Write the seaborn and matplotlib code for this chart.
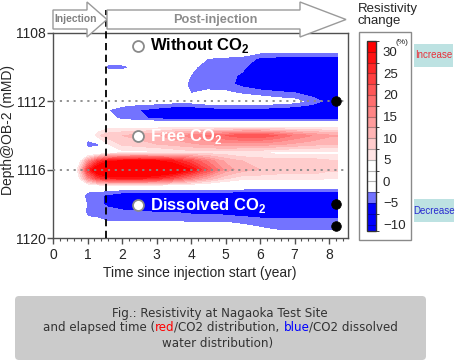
import numpy as np
import seaborn as sns
import matplotlib.pyplot as plt
from matplotlib.colors import ListedColormap, BoundaryNorm
from matplotlib.cm import ScalarMappable
from matplotlib.patches import Polygon, Rectangle, FancyBboxPatch
from matplotlib.ticker import MultipleLocator

years = [0, 0.6, 0.8, 1.0, 1.3, 1.6, 2.0, 2.5, 3.0, 3.5, 4.0, 4.5, 5.0, 5.5, 6.0, 6.5, 7.0, 7.5, 8.0, 8.25]
depths = [1108.0, 1108.5, 1109.0, 1109.5, 1110.0, 1110.5, 1111.0, 1111.5, 1112.0, 1112.5,
          1113.0, 1113.5, 1114.0, 1114.5, 1115.0, 1115.5, 1116.0, 1116.5, 1117.0, 1117.5,
          1118.0, 1118.5, 1119.0, 1119.5, 1120.0]
change = [
    [0, 0, 0, 0, 0, 0, 0, 0, 0, 0, 0, 0, 0, 0, 0, -3, -3, 0, 0, 0],
    [0, 0, 0, 0, 0, 0, 0, 0, 0, 0, 0, 0, 0, 0, 0, 0, 0, 0, 0, 0],
    [0, 0, 0, 0, 0, 0, 0, 0, 0, 0, 0, 0, 0, 0, -1, -1, -1, -1, -1, -1],
    [0, 0, 0, 0, 0, 0, 0, 0, 0, 0, -1, -2.6, -3, -3.5, -5.5, -6, -6, -6, -6, -6],
    [0, 0, 0, 0, -1, -3.5, -3.5, -1.5, -2.7, -2.7, -2, -3.5, -4, -4.5, -7, -8, -8, -8, -8, -8],
    [0, 0, 0, 0, 0, 0, 0, 0, 0, 0, -2.6, -3.5, -4, -5.5, -8, -8, -8, -8, -8, -8],
    [0, 0, 0, 0, 0, 0, -2.6, 0, 0, -1, -3, -3.5, -4, -6, -7, -8, -8, -8, -8, -8],
    [0, 0, 0, 0, 0, 0, 0, 0, 0, 0, -2.6, -2, -2, -3, -4, -4.5, -5, -6.5, -8, -8],
    [0, 0, 0, 0, 0, 0, -0.5, -1, -1, -1.5, -1.5, -0.5, 0, 0, 0, -1, -1.5, -3.5, -6, -6.5],
    [0, 0, 0, 0, 0, -2.5, -4, -5, -6, -7, -7, -6.5, -6, -6, -6, -6.5, -7, -7.5, -8, -8],
    [0, 0, 0, 0, 0, -1, -3.5, -4.5, -5.5, -6, -6, -6, -6, -6, -6, -6, -6, -6, -6, -6],
    [0, 0, 0, 0, 2, 4, 4, 4, 4, 4, 4, 4, 4, 4, 4, 4, 4, 4, 4, 4],
    [0, 0, 0, -1, 7, 9, 10, 11, 12, 14, 16, 18, 20, 22, 22, 20, 17, 15, 13, 13],
    [0, 0, 0, -3.5, -3.5, 5, 8, 9, 10, 11, 12, 13, 14, 14, 14, 13, 12, 11, 10, 10],
    [0, 0, 0, -1, 0, 3, 4, 4, 4, 5, 6, 6, 6, 5, 5, 4, 4, 4, 4, 4],
    [0, 0, 5, 14, 24, 29, 31, 32, 31, 28, 23, 17, 12, 10, 9, 9, 9, 9, 8, 8],
    [0, 0, 10, 25, 36, 40, 40, 40, 39, 36, 30, 22, 14, 11, 10, 9, 9, 9, 8, 8],
    [0, 0, 6, 15, 24, 27, 28, 28, 26, 22, 17, 12, 8, 6, 6, 6, 6, 6, 5.5, 5.5],
    [0, 0, -3, 0, 0, 0, 0, 0, 0, 0, 0, 0, 0, -0.5, -1, -1.5, -1.5, -1.5, -1.5, -1.5],
    [0, 0, -1, -4, -4.5, -5.5, -7, -8, -8, -8, -8, -8, -8, -8, -8, -8, -8, -8, -8, -8],
    [0, 0, 0, -3, -4, -6, -7.5, -8, -8, -8, -8, -8, -8, -8, -8, -8, -8, -8, -8, -8],
    [0, 0, 0, -3.5, -3.5, -3.5, -4, -4.5, -5, -5, -5.5, -5.5, -6, -6.5, -7, -7.5, -7.5, -7.5, -7.5, -7.5],
    [0, 0, 0, -1.5, -2, -2.6, -2.6, -2.7, -2.7, -2.7, -3, -3, -3, -3.5, -4, -4, -4, -4, -4, -4],
    [0, 0, 0, 0, 0, 0, 0, 0, 0, 0, 0, 0, 0, -1, -2, -2.7, -3, -3, -3, -3],
    [0, 0, 0, 0, 0, 0, 0, 0, 0, 0, 0, 0, 0, 0, 0, 0, 0, 0, 0, 0],
]

# colour classes of the legend bar
levels = [-11.5, -10, -7.5, -5, -2.5, 0, 2.5, 5, 7.5, 10, 12.5, 15, 17.5, 20, 22.5, 25, 27.5, 30, 32.5]
level_colors = ['#0000ff', '#0000ff', '#0000ff', '#7373ff',
                '#ffffff', '#ffffff', '#ffffff',
                '#ffe4e4', '#ffcccc', '#ffb4b4', '#ff9c9c', '#ff8585', '#ff6e6e',
                '#ff5757', '#ff4040', '#ff2828', '#ff1212', '#ff0000']
cbar_ticks = [-10, -5, 0, 5, 10, 15, 20, 25, 30]

# annotations
injection_end = 1.55
ref_depths = [1112, 1116]
label_year = 2.47
label_depths = [1108.76, 1114.03, 1118.07]
label_texts = [r'Without CO$_\mathbf{2}$', r'Free CO$_\mathbf{2}$', r'Dissolved CO$_\mathbf{2}$']
label_colors = ['black', 'white', 'white']
sensor_year = 8.2
sensor_depths = [1111.98, 1118.01, 1119.3]

sns.set_style('ticks')
plt.rcParams['font.family'] = ['Liberation Sans', 'DejaVu Sans']
plt.rcParams['mathtext.fontset'] = 'custom'
plt.rcParams['mathtext.rm'] = 'Liberation Sans'
plt.rcParams['mathtext.bf'] = 'Liberation Sans:bold'

W, H = 455, 361
fig = plt.figure(figsize=(W / 100, H / 100), dpi=100)


def px_box(l, t, r, b):
    return [l / W, 1 - b / H, (r - l) / W, (b - t) / H]


ax = fig.add_axes(px_box(53, 33, 348, 238))
fill_levels = [-20] + levels[1:-1] + [50]
ax.contourf(years, depths, np.array(change), levels=fill_levels, colors=level_colors, zorder=1)

for d in ref_depths:
    ax.axhline(d, xmax=8.42 / 8.55, color='#8a8a8a', ls=(0, (1.2, 2.6)), lw=1.3, zorder=3)
ax.axvline(injection_end, ymin=0, ymax=(238 - 10) / 205, color='black', ls=(0, (4, 2.5)),
           lw=1.3, clip_on=False, zorder=4)

sns.scatterplot(x=[sensor_year] * len(sensor_depths), y=sensor_depths, color='black',
                edgecolor='black', s=48, ax=ax, zorder=6, clip_on=False)
sns.scatterplot(x=[label_year] * len(label_depths), y=label_depths, color='white',
                edgecolor='#8a8a8a', linewidth=1.3, s=62, ax=ax, zorder=6)
for d, t, c in zip(label_depths, label_texts, label_colors):
    ax.text(2.81, d, t, color=c, fontsize=12, fontweight='bold', va='center', ha='left', zorder=7)

ax.set_xlim(0, 8.55)
ax.set_ylim(1120, 1108)
ax.xaxis.set_major_locator(MultipleLocator(1))
ax.xaxis.set_minor_locator(MultipleLocator(0.2))
ax.yaxis.set_major_locator(MultipleLocator(4))
ax.yaxis.set_minor_locator(MultipleLocator(2))
ax.tick_params(which='both', color='#505050')
ax.tick_params(which='major', length=4, width=1, labelsize=10, direction='out')
ax.tick_params(axis='x', which='minor', length=2.5, width=0.8, direction='out')
ax.tick_params(axis='y', which='minor', length=3, width=0.8, direction='in')
ax.tick_params(axis='y', which='major', pad=1)
ax.tick_params(axis='x', which='major', pad=3)
for s in ax.spines.values():
    s.set_color('#505050')
    s.set_linewidth(1)
ax.set_xlabel('Time since injection start (year)', fontsize=10)
ax.set_ylabel('Depth@OB-2 (mMD)', fontsize=10)
ax.xaxis.set_label_coords(0.498, -0.135)
ax.yaxis.set_label_coords(-0.128, 0.527)

# legend bar
cax = fig.add_axes(px_box(367, 41, 376, 231))
sm = ScalarMappable(norm=BoundaryNorm(levels, len(level_colors)), cmap=ListedColormap(level_colors))
cb = fig.colorbar(sm, cax=cax, ticks=cbar_ticks, spacing='proportional', drawedges=True)
cb.outline.set_edgecolor('#333333')
cb.outline.set_linewidth(1)
cb.dividers.set_color((0, 0, 0, 0.3))
cb.dividers.set_linewidth(0.8)
cax.tick_params(length=0, pad=5, labelsize=9.5)

# overlay in pixel units for arrows, boxes and caption
ov = fig.add_axes([0, 0, 1, 1], zorder=5)
ov.set_xlim(0, W)
ov.set_ylim(H, 0)
ov.axis('off')

arrow_kw = dict(closed=True, fc='white', ec='#9a9a9a', lw=1)
ov.add_patch(Polygon([(53, 10), (87, 10), (87, 2), (107, 19.5), (87, 37), (87, 29), (53, 29)], **arrow_kw))
ov.add_patch(Polygon([(107, 10), (300, 10), (300, 2), (346, 19.5), (300, 37), (300, 29), (107, 29)], **arrow_kw))
ov.text(76, 19.5, 'Injection', color='#808080', fontsize=7.4, fontweight='bold', ha='center', va='center')
ov.text(215, 20, 'Post-injection', color='#8c8c8c', fontsize=9.2, fontweight='bold', ha='center', va='center')

ov.add_patch(Rectangle((359, 32), 52, 208, fc='none', ec='#8a8a8a', lw=1))
ov.text(358, 3, 'Resistivity\nchange', fontsize=9.5, ha='left', va='top', linespacing=0.95)
ov.text(402, 42, '(%)', fontsize=6, ha='center', va='center')
ov.add_patch(Rectangle((414, 44), 39, 23, fc='#bde2e2', ec='none'))
ov.text(433.5, 55.5, 'Increase', color='#e8303a', fontsize=7, ha='center', va='center')
ov.add_patch(Rectangle((414, 199), 40, 23, fc='#bde2e2', ec='none'))
ov.text(434, 210.5, 'Decrease', color='#2b2bd0', fontsize=7, ha='center', va='center')

# caption
ov.add_patch(FancyBboxPatch((15, 296), 411, 64, boxstyle='round,pad=0,rounding_size=4', fc='#cbcbcb', ec='none'))
cap_kw = dict(fontsize=8.6, color='#333333', family='DejaVu Sans')
ov.text(220, 314, 'Fig.: Resistivity at Nagaoka Test Site', ha='center', va='center', **cap_kw)
ov.text(218, 343, 'water distribution)', ha='center', va='center', **cap_kw)

pieces = [('and elapsed time (', '#333333'), ('red', '#ff0000'), ('/CO2 distribution, ', '#333333'),
          ('blue', '#0000ff'), ('/CO2 dissolved', '#333333')]
kw = dict(fontsize=8.6, family='DejaVu Sans')
first = ov.text(35, 334, pieces[0][0], color=pieces[0][1], ha='left', va='bottom', **kw)
prev = first
for txt, col in pieces[1:]:
    prev = ov.annotate(txt, xy=(1, 0), xycoords=prev, ha='left', va='bottom', color=col, **kw)
fig.canvas.draw()
r = fig.canvas.get_renderer()
x0 = first.get_window_extent(r).x0
x1 = prev.get_window_extent(r).x1
width_px = x1 - x0
first.set_x(220.5 - width_px / 2)

fig.savefig('out.png', dpi=100)
